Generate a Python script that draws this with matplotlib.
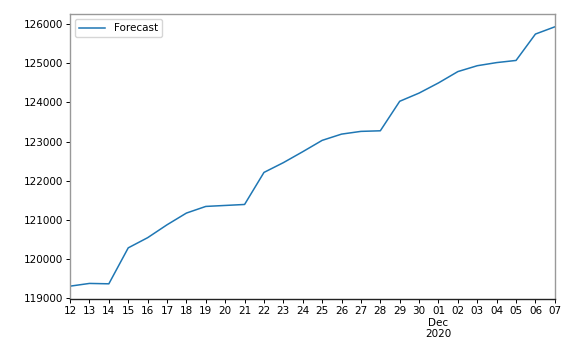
import matplotlib
matplotlib.use("Agg")
import matplotlib.pyplot as plt
import pandas as pd

# прогноз по дням, 12 ноября - 7 декабря 2020
dates = pd.date_range("2020-11-12", "2020-12-07", freq="D")
forecast = [119300, 119370, 119360, 120280, 120540, 120870, 121170, 121340,
            121365, 121390, 122210, 122460, 122740, 123030, 123190, 123260,
            123275, 124030, 124240, 124500, 124790, 124940, 125020, 125075,
            125750, 125935]
tick_labels = ["12", "13", "14", "15", "16", "17", "18", "19", "20", "21",
               "22", "23", "24", "25", "26", "27", "28", "29", "30",
               "01\nDec\n2020", "02", "03", "04", "05", "06", "07"]

plt.rcParams["font.family"] = "DejaVu Sans"
plt.rcParams["font.size"] = 7.5

fig = plt.figure(figsize=(5.65, 3.38), dpi=100)
ax = fig.add_axes([0.124, 0.115, 0.858, 0.844])
ax.plot(dates, forecast, color="#1f77b4", linewidth=1.1, label="Forecast")

ax.set_xlim(dates[0], dates[-1])
ax.set_xticks(dates)
ax.set_xticklabels(tick_labels)
ax.tick_params(axis="both", labelsize=7.5, length=3, width=0.7, pad=2)
ax.set_yticks([119000, 120000, 121000, 122000, 123000, 124000, 125000, 126000])

for side in ["left", "top", "right"]:
    ax.spines[side].set_color("#999999")
ax.spines["bottom"].set_color("#222222")
for s in ax.spines.values():
    s.set_linewidth(1.0)

ax.legend(loc="upper left", fontsize=7.5, handlelength=2.5)

fig.savefig("out.png", dpi=100)
